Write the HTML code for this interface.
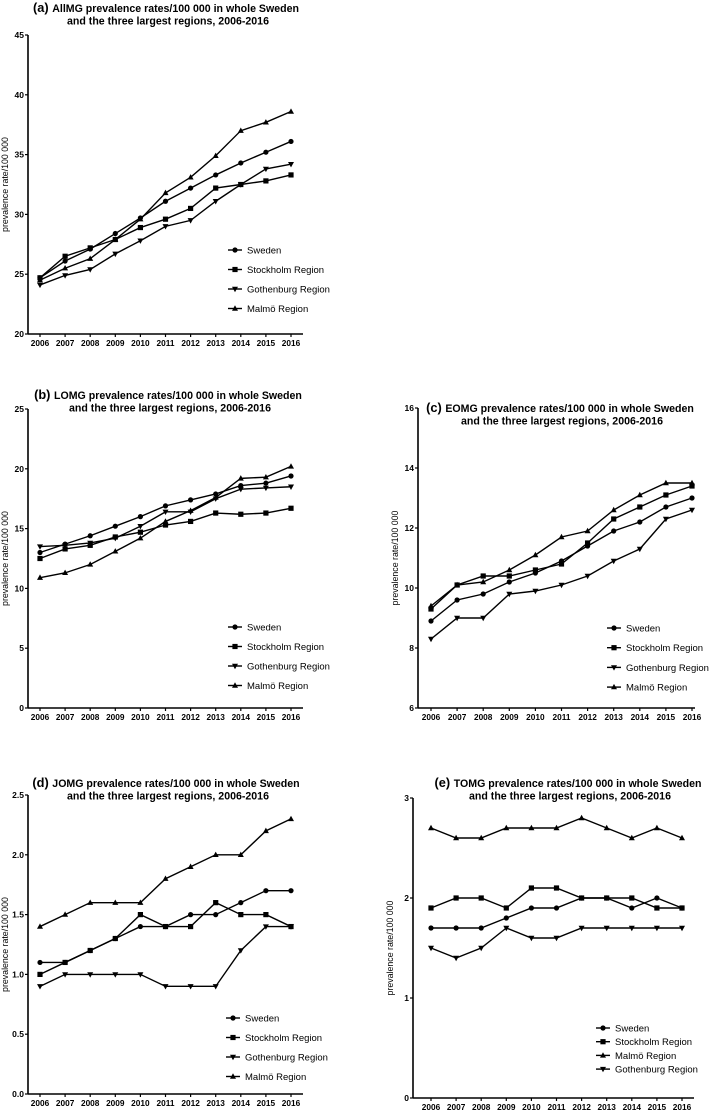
<!DOCTYPE html>
<html><head><meta charset="utf-8"><style>
body{margin:0;background:#fff;width:709px;height:1113px;overflow:hidden}
svg{position:absolute;left:0;top:0}
text{font-family:"Liberation Sans",sans-serif}
</style></head><body>
<svg id="c" width="709" height="1113"></svg>
<script>
const years=["2006","2007","2008","2009","2010","2011","2012","2013","2014","2015","2016"];
const aSweden=[24.7,26.1,27.1,28.4,29.7,31.1,32.2,33.3,34.3,35.2,36.1];
const aStockholm=[24.7,26.5,27.2,27.9,28.9,29.6,30.5,32.2,32.5,32.8,33.3];
const aGothenburg=[24.1,24.9,25.4,26.7,27.8,29.0,29.5,31.1,32.5,33.8,34.2];
const aMalmo=[24.5,25.5,26.3,27.9,29.6,31.8,33.1,34.9,37.0,37.7,38.6];
const aTicks=[20,25,30,35,40,45];
const bSweden=[13.0,13.7,14.4,15.2,16.0,16.9,17.4,17.9,18.6,18.8,19.4];
const bStockholm=[12.5,13.3,13.6,14.3,14.7,15.3,15.6,16.3,16.2,16.3,16.7];
const bGothenburg=[13.5,13.6,13.8,14.2,15.2,16.4,16.4,17.5,18.3,18.4,18.5];
const bMalmo=[10.9,11.3,12.0,13.1,14.2,15.6,16.5,17.6,19.2,19.3,20.2];
const bTicks=[0,5,10,15,20,25];
const cSweden=[8.9,9.6,9.8,10.2,10.5,10.9,11.4,11.9,12.2,12.7,13.0];
const cStockholm=[9.3,10.1,10.4,10.4,10.6,10.8,11.5,12.3,12.7,13.1,13.4];
const cGothenburg=[8.3,9.0,9.0,9.8,9.9,10.1,10.4,10.9,11.3,12.3,12.6];
const cMalmo=[9.4,10.1,10.2,10.6,11.1,11.7,11.9,12.6,13.1,13.5,13.5];
const cTicks=[6,8,10,12,14,16];
const dSweden=[1.1,1.1,1.2,1.3,1.4,1.4,1.5,1.5,1.6,1.7,1.7];
const dStockholm=[1.0,1.1,1.2,1.3,1.5,1.4,1.4,1.6,1.5,1.5,1.4];
const dGothenburg=[0.9,1.0,1.0,1.0,1.0,0.9,0.9,0.9,1.2,1.4,1.4];
const dMalmo=[1.4,1.5,1.6,1.6,1.6,1.8,1.9,2.0,2.0,2.2,2.3];
const dTicks=["0.0","0.5","1.0","1.5","2.0","2.5"];
const eSweden=[1.7,1.7,1.7,1.8,1.9,1.9,2.0,2.0,1.9,2.0,1.9];
const eStockholm=[1.9,2.0,2.0,1.9,2.1,2.1,2.0,2.0,2.0,1.9,1.9];
const eMalmo=[2.7,2.6,2.6,2.7,2.7,2.7,2.8,2.7,2.6,2.7,2.6];
const eGothenburg=[1.5,1.4,1.5,1.7,1.6,1.6,1.7,1.7,1.7,1.7,1.7];
const eTicks=[0,1,2,3];

const svg=document.getElementById('c');
const NS='http://www.w3.org/2000/svg';
function mk(tag,attrs,parent){const e=document.createElementNS(NS,tag);for(const k in attrs)e.setAttribute(k,attrs[k]);(parent||svg).appendChild(e);return e;}
function marker(g,type,x,y){
  if(type==='circle')return mk('circle',{cx:x,cy:y,r:2.6,fill:'#000'},g);
  if(type==='square')return mk('rect',{x:x-2.6,y:y-2.6,width:5.2,height:5.2,fill:'#000'},g);
  if(type==='up')return mk('polygon',{points:`${x},${y-3.2} ${x-3},${y+2.2} ${x+3},${y+2.2}`,fill:'#000'},g);
  return mk('polygon',{points:`${x},${y+3.2} ${x-3},${y-2.2} ${x+3},${y-2.2}`,fill:'#000'},g);
}
function panel(p){
  const g=mk('g',{});
  
  
  const ymin=+p.ticks[0],ymax=+p.ticks[p.ticks.length-1];
  const Yf=v=>p.y0-(v-ymin)/(ymax-ymin)*(p.y0-p.y1);
  const X=i=>p.x0+i*(p.x1-p.x0)/(years.length-1);
  const ya=mk('line',{x1:p.ax,y1:p.y1,x2:p.ax,y2:p.y0,stroke:'#000','stroke-width':1.6},g);
  
  const xa=mk('line',{x1:p.ax,y1:p.y0,x2:p.axEnd,y2:p.y0,stroke:'#000','stroke-width':1.6},g);
  
  p.ticks.forEach(t=>{
    const y=Yf(+t);
    mk('line',{x1:p.ax-3,y1:y,x2:p.ax,y2:y,stroke:'#000','stroke-width':1.2},g);
    const tx=mk('text',{x:p.ax-4,y:y+3,'font-size':8.5,'font-weight':'bold','text-anchor':'end'},g);
    tx.textContent=t;
    
  });
  years.forEach((yr,i)=>{
    mk('line',{x1:X(i),y1:p.y0,x2:X(i),y2:p.y0+3,stroke:'#000','stroke-width':1.2},g);
    const tx=mk('text',{x:X(i),y:p.y0+12,'font-size':8.3,'font-weight':'bold','text-anchor':'middle'},g);
    tx.textContent=yr;
    
  });
  const yc=(p.y0+p.y1)/2;
  const yt=mk('text',{x:0,y:0,'font-size':8.8,'text-anchor':'middle',transform:`translate(${p.ax-20},${yc}) rotate(-90)`},g);
  yt.textContent='prevalence rate/100 000';
  
  const t1=mk('text',{x:p.tx,y:p.ty,'font-size':10.6,'font-weight':'bold','text-anchor':'middle'},g);
  const s=mk('tspan',{'font-size':12.8},t1);s.textContent=p.label+' ';
  const s2=mk('tspan',{},t1);s2.textContent=p.title1;
  
  const t2=mk('text',{x:p.tx+2,y:p.ty+12.5,'font-size':10.6,'font-weight':'bold','text-anchor':'middle'},g);
  t2.textContent='and the three largest regions, 2006-2016';
  
  p.series.forEach((s,k)=>{
    const sg=mk('g',{},g);
    
    
    const pts=s.vals.map((v,i)=>X(i)+','+Yf(v)).join(' ');
    mk('polyline',{points:pts,fill:'none',stroke:'#000','stroke-width':1.4},sg);
    s.vals.forEach((v,i)=>{const m=marker(sg,s.m,X(i),Yf(v));
      });
    const ly=p.ly+k*p.ldy;
    const lg=mk('g',{},g);
    
    
    mk('line',{x1:p.lx-7,y1:ly,x2:p.lx+7,y2:ly,stroke:'#000','stroke-width':1.4},lg);
    marker(lg,s.m,p.lx,ly);
    const lt=mk('text',{x:p.lx+12,y:ly+3.5,'font-size':9.5},lg);
    lt.textContent=s.name;
  });
}
const std=(S,St,G,M)=>[
 {key:'sweden',name:'Sweden',m:'circle',vals:S},
 {key:'stockholm',name:'Stockholm Region',m:'square',vals:St},
 {key:'gothenburg',name:'Gothenburg Region',m:'down',vals:G},
 {key:'malmo',name:'Malmö Region',m:'up',vals:M}];
panel({name:'panel-a-allmg',label:'(a)',title1:'AllMG prevalence rates/100 000 in whole Sweden',tx:166,ty:12,
 ax:28,axEnd:303,x0:40,x1:291,y0:334,y1:35,ticks:aTicks,lx:235,ly:250,ldy:19.5,series:std(aSweden,aStockholm,aGothenburg,aMalmo)});
panel({name:'panel-b-lomg',label:'(b)',title1:'LOMG prevalence rates/100 000 in whole Sweden',tx:168,ty:399,
 ax:28,axEnd:303,x0:40,x1:291,y0:708,y1:409,ticks:bTicks,lx:235,ly:627,ldy:19.5,series:std(bSweden,bStockholm,bGothenburg,bMalmo)});
panel({name:'panel-c-eomg',label:'(c)',title1:'EOMG prevalence rates/100 000 in whole Sweden',tx:560,ty:412,
 ax:418,axEnd:695,x0:431,x1:692,y0:708,y1:408,ticks:cTicks,lx:614,ly:628,ldy:19.7,series:std(cSweden,cStockholm,cGothenburg,cMalmo)});
panel({name:'panel-d-jomg',label:'(d)',title1:'JOMG prevalence rates/100 000 in whole Sweden',tx:166,ty:787,
 ax:28,axEnd:303,x0:40,x1:291,y0:1094,y1:795,ticks:dTicks,lx:233,ly:1018,ldy:19.5,series:std(dSweden,dStockholm,dGothenburg,dMalmo)});
panel({name:'panel-e-tomg',label:'(e)',title1:'TOMG prevalence rates/100 000 in whole Sweden',tx:568,ty:787,
 ax:413,axEnd:694,x0:431,x1:682,y0:1098,y1:798,ticks:eTicks,lx:603,ly:1028,ldy:13.7,series:[
 {key:'sweden',name:'Sweden',m:'circle',vals:eSweden},
 {key:'stockholm',name:'Stockholm Region',m:'square',vals:eStockholm},
 {key:'malmo',name:'Malmö Region',m:'up',vals:eMalmo},
 {key:'gothenburg',name:'Gothenburg Region',m:'down',vals:eGothenburg}]});
</script>
</body></html>
